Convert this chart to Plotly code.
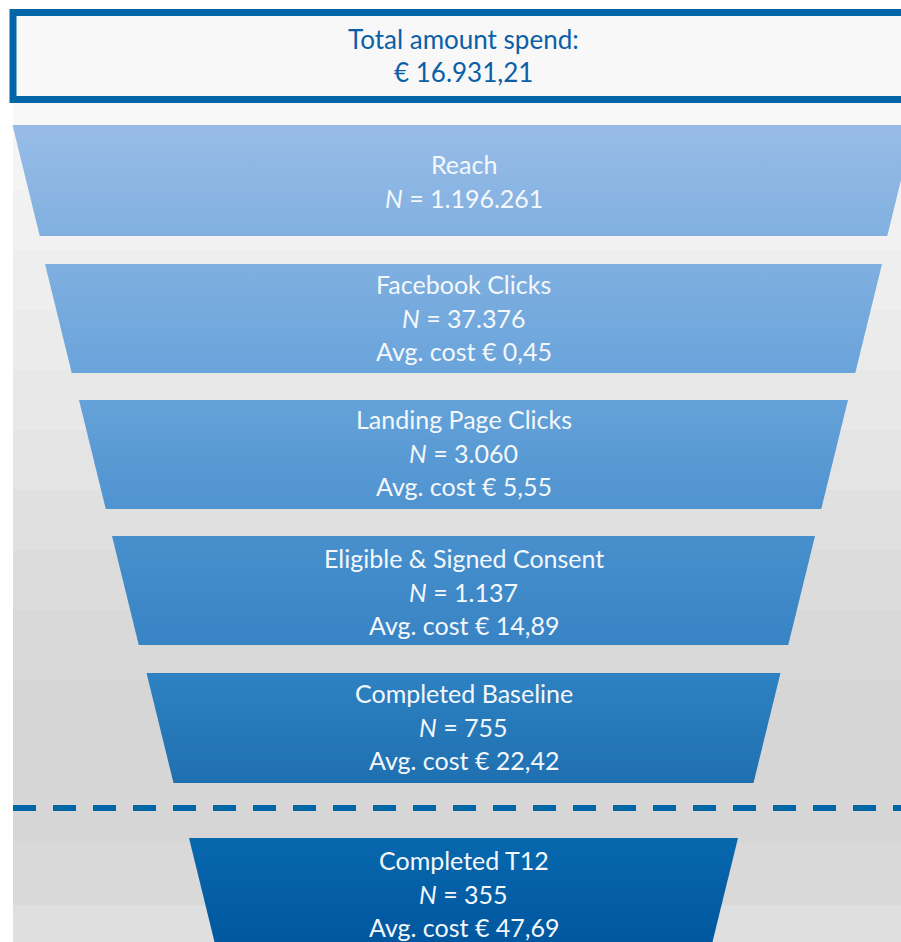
import plotly.graph_objects as go

# ---- data ----
stages = ["Reach", "Facebook Clicks", "Landing Page Clicks",
          "Eligible & Signed Consent", "Completed Baseline", "Completed T12"]
counts = [1196261, 37376, 3060, 1137, 755, 355]
avg_costs = [None, 0.45, 5.55, 14.89, 22.42, 47.69]
total_spend = 16931.21

# ---- style / geometry (pixels) ----
W, H = 901, 942
CX = 463.5
tops = [125, 264, 400, 536, 673, 838]
heights = [111, 109, 109, 109, 110, 110]
half_top = [451, 418.5, 384.5, 351.5, 317, 274.5]
slope = 27 / 110
grad_colors = [("#98bce7", "#81b0e0"), ("#7fafe0", "#69a4db"), ("#65a2d9", "#4f93cf"),
               ("#4890cd", "#3883c4"), ("#2f82c2", "#1e70b1"), ("#0868ad", "#00569e")]
BLUE = "#0066a8"


def fmt_int(n):
    return f"{n:,}".replace(",", ".")


def fmt_eur(v):
    s = f"{v:,.2f}"
    return s.replace(",", "X").replace(".", ",").replace("X", ".")


fig = go.Figure()

shapes = []
# white page, grey gradient background (stepped bands)
bg_stops = [(103, "#f8f8f8"), (125, "#f4f4f4"), (190, "#f1f1f1"), (250, "#eeeeee"),
            (310, "#ebebeb"), (370, "#e8e8e8"), (430, "#e4e4e4"), (490, "#e0e0e0"),
            (550, "#dcdcdc"), (610, "#d9d9d9"), (680, "#d6d6d6"), (843, "#d9d9d9"),
            (905, "#dfdfdf"), (H, None)]
for (y0, c), (y1, _) in zip(bg_stops[:-1], bg_stops[1:]):
    shapes.append(dict(type="rect", xref="x", yref="y", x0=13, x1=W, y0=y0, y1=y1,
                       fillcolor=c, line_width=0, layer="below"))

# top box
shapes.append(dict(type="rect", xref="x", yref="y", x0=13, x1=W + 10, y0=12.5, y1=99.5,
                   fillcolor="#f8f8f8", line=dict(color=BLUE, width=7)))

# dashed separator
shapes.append(dict(type="line", xref="x", yref="y", x0=13, x1=W, y0=808, y1=808,
                   line=dict(color=BLUE, width=6, dash="23px,17px")))

# funnel trapezoids
for i, st in enumerate(stages):
    t = tops[i]
    b = t + heights[i]
    ht = half_top[i]
    hb = ht - slope * heights[i]
    xs = [CX - ht, CX + ht, CX + hb, CX - hb, CX - ht]
    ys = [t, t, b, b, t]
    c0, c1 = grad_colors[i]
    fig.add_trace(go.Scatter(
        x=xs, y=ys, mode="lines", fill="toself", line=dict(width=0),
        fillgradient=dict(type="vertical", start=t, stop=b,
                          colorscale=[[0, c0], [1, c1]]),
        hoverinfo="skip", showlegend=False))

annotations = []
FONT = "Lato, 'Open Sans', sans-serif"
annotations.append(dict(x=CX, y=39, text="Total amount spend:", showarrow=False,
                        font=dict(family=FONT, size=26, color="#0a5fa6")))
annotations.append(dict(x=CX, y=72, text="€ " + fmt_eur(total_spend), showarrow=False,
                        font=dict(family=FONT, size=26, color="#0a5fa6")))

first_line = [164, 284, 419, 558, 693, 860]
LS = 33.5
for i, st in enumerate(stages):
    lines = [st, "<i>N</i> = " + fmt_int(counts[i])]
    if avg_costs[i] is not None:
        lines.append("Avg. cost € " + fmt_eur(avg_costs[i]))
    for j, txt in enumerate(lines):
        annotations.append(dict(x=CX, y=first_line[i] + j * LS, text=txt, showarrow=False,
                                font=dict(family=FONT, size=25, color="#f4f8fc")))

fig.update_layout(
    width=W, height=H, margin=dict(l=0, r=0, t=0, b=0),
    paper_bgcolor="white", plot_bgcolor="white",
    xaxis=dict(range=[0, W], visible=False, fixedrange=True),
    yaxis=dict(range=[H, 0], visible=False, fixedrange=True),
    shapes=shapes, annotations=annotations, showlegend=False,
)

fig.write_html("out.html", config={"displayModeBar": False})
